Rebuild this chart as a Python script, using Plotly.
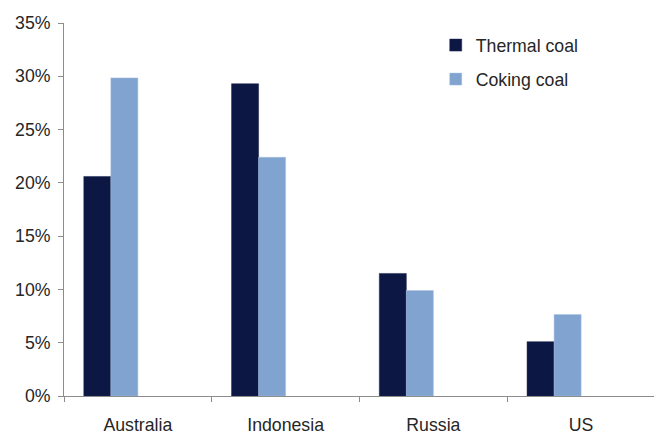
import plotly.graph_objects as go

categories = ["Australia", "Indonesia", "Russia", "US"]
thermal = [20.6, 29.3, 11.5, 5.1]
coking = [29.85, 22.4, 9.9, 7.65]
y_ticks = [0, 5, 10, 15, 20, 25, 30, 35]
y_tick_labels = ["0%", "5%", "10%", "15%", "20%", "25%", "30%", "35%"]

FONT = "Liberation Sans, Arial, sans-serif"
TXT = "#262626"

fig = go.Figure()
fig.add_trace(go.Bar(
    x=categories, y=thermal, name="Thermal coal",
    marker=dict(color="#0c1843", line=dict(color="#1a2550", width=0.5)),
    width=0.183, offset=-0.366, legendgroup="a",
))
fig.add_trace(go.Bar(
    x=categories, y=coking, name="Coking coal",
    marker=dict(color="#80a3d0", line=dict(color="#a9c1e2", width=0.5)),
    width=0.183, offset=-0.183, legendgroup="b",
))

# The page body adds an 8 px offset, so the figure is sized to fit the window.
fig.update_layout(
    width=654, height=428,
    margin=dict(l=56, r=7, t=15, b=40, autoexpand=False),
    paper_bgcolor="white", plot_bgcolor="white",
    barmode="overlay",
    font=dict(family=FONT, size=17.7, color=TXT),
    showlegend=True,
    legend=dict(
        x=0.629, y=0.989, xanchor="left", yanchor="top",
        bgcolor="rgba(0,0,0,0)", itemwidth=30, tracegroupgap=8,
        font=dict(family=FONT, size=17.7, color=TXT),
    ),
    xaxis=dict(
        showline=True, linecolor="#8c8c8c", linewidth=1,
        ticks="outside", tickson="boundaries", ticklen=5, tickcolor="#8c8c8c",
        showgrid=False, zeroline=False, ticklabelstandoff=13,
    ),
    yaxis=dict(
        range=[0, 35], tickvals=y_ticks, ticktext=y_tick_labels,
        showline=True, linecolor="#8c8c8c", linewidth=1,
        ticks="outside", ticklen=5, tickcolor="#8c8c8c",
        showgrid=False, zeroline=False, ticklabelstandoff=4,
    ),
)

fig.write_html("out.html")
